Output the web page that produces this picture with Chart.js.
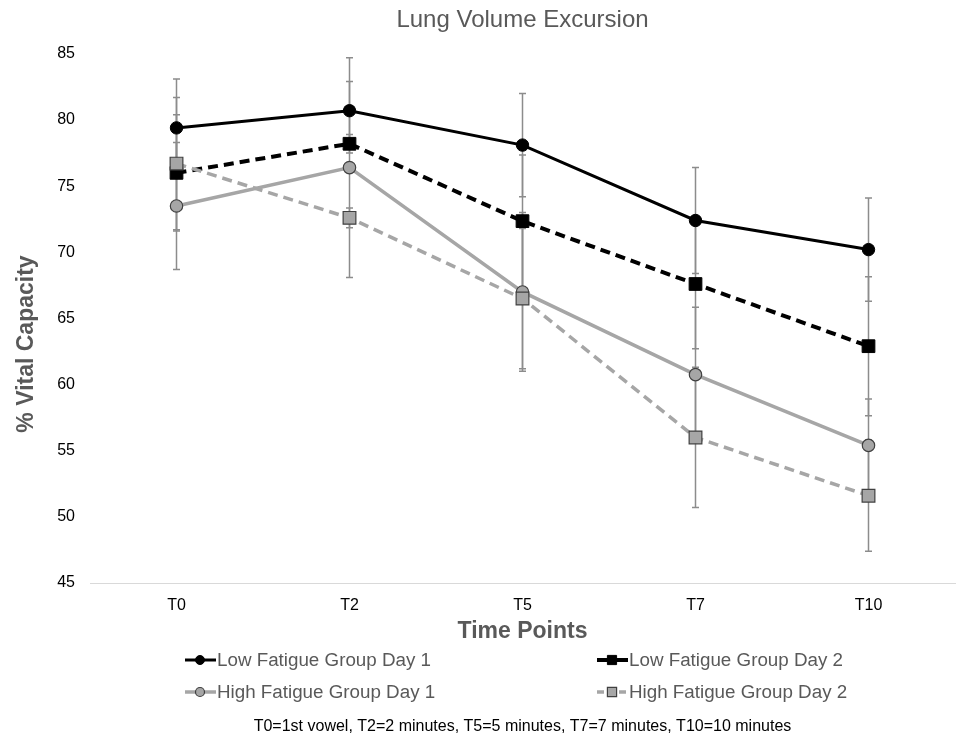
<!DOCTYPE html>
<html>
<head>
<meta charset="utf-8">
<title>Lung Volume Excursion</title>
<script src="https://cdn.jsdelivr.net/npm/chart.js@4.4.1/dist/chart.umd.min.js"></script>
<style>
    html, body { margin: 0; padding: 0; background: #ffffff; }
    #chartBox { width: 956px; height: 738px; }
</style>
</head>
<body>
<div id="chartBox"><canvas id="lungChart" width="956" height="738"></canvas></div>
<script>
const TIME_POINTS = ["T0", "T2", "T5", "T7", "T10"];
const SERIES_LABELS = [
    "Low Fatigue Group Day 1",
    "Low Fatigue Group Day 2",
    "High Fatigue Group Day 1",
    "High Fatigue Group Day 2"
];

// mean % vital capacity per time point
const LOW_DAY1 = [79.4, 80.7, 78.1, 72.4, 70.2];
const LOW_DAY2 = [76.0, 78.2, 72.35, 67.6, 62.9];
const HIGH_DAY1 = [73.5, 76.4, 67.0, 60.75, 55.4];
const HIGH_DAY2 = [76.7, 72.6, 66.5, 56.0, 51.6];

// error bar half lengths (same units)
const LOW_DAY1_ERR = [3.7, 2.2, 3.9, 4.0, 3.9];
const LOW_DAY2_ERR = [4.4, 0.7, 5.0, 4.9, 5.25];
const HIGH_DAY1_ERR = [4.8, 8.3, 6.0, 5.1, 3.5];
const HIGH_DAY2_ERR = [5.0, 0.75, 5.3, 5.3, 4.2];

const Y_MIN = 45;
const Y_MAX = 85;
const Y_STEP = 5;

const CHART_TITLE = "Lung Volume Excursion";
const X_TITLE = "Time Points";
const Y_TITLE = "% Vital Capacity";
const FOOTNOTE = "T0=1st vowel, T2=2 minutes, T5=5 minutes, T7=7 minutes, T10=10 minutes";

const FONT = "'Liberation Sans', Arial, sans-serif";
const GREY_TEXT = "#595959";

Chart.defaults.font.family = FONT;
Chart.defaults.color = "#000000";

/**
 * error bars drawn under the lines
 */
const errorBarPlugin = {
    id: "errorBars",
    beforeDatasetsDraw(chart) {
        const ctx = chart.ctx;
        const x = chart.scales.x;
        const y = chart.scales.y;
        ctx.save();
        ctx.strokeStyle = "#8c8c8c";
        ctx.lineWidth = 1.5;
        chart.data.datasets.forEach(function (ds) {
            ds.data.forEach(function (v, j) {
                const px = x.getPixelForValue(j);
                const top = y.getPixelForValue(v + ds.errors[j]);
                const bot = y.getPixelForValue(v - ds.errors[j]);
                ctx.beginPath();
                ctx.moveTo(px, top);
                ctx.lineTo(px, bot);
                ctx.moveTo(px - 3.5, top);
                ctx.lineTo(px + 3.5, top);
                ctx.moveTo(px - 3.5, bot);
                ctx.lineTo(px + 3.5, bot);
                ctx.stroke();
            });
        });
        ctx.restore();
    }
};

/**
 * y title, two column legend and footnote
 */
const extrasPlugin = {
    id: "extras",
    afterDraw(chart) {
        const ctx = chart.ctx;
        const area = chart.chartArea;
        ctx.save();

        // y axis title
        ctx.translate(27, 344);
        ctx.rotate(-Math.PI / 2);
        ctx.font = "bold 23px " + FONT;
        ctx.fillStyle = GREY_TEXT;
        ctx.textAlign = "center";
        ctx.textBaseline = "middle";
        ctx.fillText(Y_TITLE, 0, 0);
        ctx.setTransform(1, 0, 0, 1, 0, 0);

        // legend
        const colX = [185, 597];
        const rowY = [660, 692];
        chart.data.datasets.forEach(function (ds, i) {
            const x0 = colX[i % 2];
            const y0 = rowY[Math.floor(i / 2)];
            const isGreyDash = ds.borderDash && ds.borderColor !== "#000000";
            ctx.save();
            ctx.strokeStyle = ds.borderColor;
            ctx.lineWidth = ds.borderWidth;
            ctx.setLineDash(isGreyDash ? [7, 4] : []);
            ctx.beginPath();
            ctx.moveTo(x0, y0);
            ctx.lineTo(x0 + 31, y0);
            ctx.stroke();
            ctx.restore();

            ctx.fillStyle = ds.pointBackgroundColor;
            ctx.strokeStyle = ds.pointBorderColor;
            ctx.lineWidth = ds.pointBorderWidth;
            Chart.helpers.drawPoint(ctx, {
                pointStyle: ds.pointStyle,
                radius: ds.pointStyle === "rect" ? 6.5 : 4.5,
                borderWidth: ds.pointBorderWidth,
                rotation: 0
            }, x0 + 15, y0);

            ctx.font = "18.8px " + FONT;
            ctx.fillStyle = GREY_TEXT;
            ctx.textAlign = "left";
            ctx.textBaseline = "middle";
            ctx.fillText(ds.label, x0 + 32, y0 + 1);
        });

        // footnote
        ctx.font = "16px " + FONT;
        ctx.fillStyle = "#000000";
        ctx.textAlign = "center";
        ctx.textBaseline = "middle";
        ctx.fillText(FOOTNOTE, (area.left + area.right) / 2, 727);

        ctx.restore();
    }
};

function makeDataset(label, data, errors, dark, dashed, style, order) {
    const lineColor = dark ? "#000000" : "#a6a6a6";
    return {
        label: label,
        data: data,
        errors: errors,
        order: order,
        borderColor: lineColor,
        backgroundColor: lineColor,
        borderWidth: dashed && dark ? 4 : 3.5,
        borderDash: dashed ? [10, 6] : undefined,
        tension: 0,
        fill: false,
        pointStyle: style,
        pointRadius: style === "rect" ? 9 : 6.2,
        pointHoverRadius: style === "rect" ? 9 : 6.2,
        pointBackgroundColor: lineColor,
        pointBorderColor: dark ? "#000000" : "#404040",
        pointBorderWidth: dark ? 1 : 1.2
    };
}

const datasets = [
    makeDataset(SERIES_LABELS[0], LOW_DAY1, LOW_DAY1_ERR, true, false, "circle", 4),
    makeDataset(SERIES_LABELS[1], LOW_DAY2, LOW_DAY2_ERR, true, true, "rect", 3),
    makeDataset(SERIES_LABELS[2], HIGH_DAY1, HIGH_DAY1_ERR, false, false, "circle", 2),
    makeDataset(SERIES_LABELS[3], HIGH_DAY2, HIGH_DAY2_ERR, false, true, "rect", 1)
];
datasets[0].borderWidth = 3;

const config = {
    type: "line",
    data: { labels: TIME_POINTS, datasets: datasets },
    options: {
        responsive: false,
        animation: false,
        layout: { autoPadding: false, padding: { left: 0, right: 1, top: 0, bottom: 93 } },
        plugins: {
            legend: { display: false },
            tooltip: { enabled: false },
            title: {
                display: true,
                text: CHART_TITLE,
                fullSize: false,
                color: GREY_TEXT,
                font: { size: 24, weight: "normal" },
                padding: { top: 6, bottom: 19 }
            }
        },
        scales: {
            x: {
                offset: true,
                grid: { display: false, drawTicks: false },
                border: { display: true, color: "#d9d9d9", width: 1 },
                ticks: { font: { size: 16 }, color: "#000000", padding: 13 },
                title: {
                    display: true,
                    text: X_TITLE,
                    color: GREY_TEXT,
                    font: { size: 23, weight: "bold" },
                    padding: { top: 0, bottom: 0 }
                },
                afterFit: function (scale) {
                    scale.height = 62;
                    scale.paddingLeft = 0;
                    scale.paddingRight = 0;
                }
            },
            y: {
                min: Y_MIN,
                max: Y_MAX,
                grid: { display: false, drawTicks: false },
                border: { display: false },
                ticks: { stepSize: Y_STEP, font: { size: 16 }, color: "#000000", padding: 15 },
                afterFit: function (scale) { scale.width = 90; }
            }
        }
    },
    plugins: [errorBarPlugin, extrasPlugin]
};

new Chart(document.getElementById("lungChart").getContext("2d"), config);
</script>
</body>
</html>
